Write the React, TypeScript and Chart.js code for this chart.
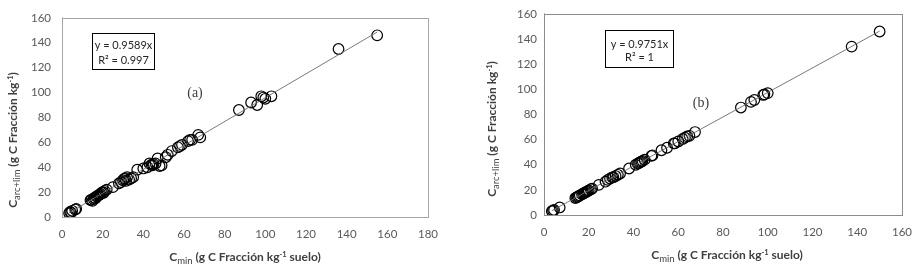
import React, { useEffect, useRef } from "react";
import { Chart, registerables } from "chart.js";
Chart.register(...registerables);

// ---------- DATA ----------
// Panel (a)
const xA = [3.5, 4, 4.5, 5, 6.5, 7, 14, 14.5, 15, 15.5, 16, 16.5, 17, 17.5, 18, 18.5, 19, 19.5, 20, 20.5, 21, 22, 25, 28, 29, 30, 30.5, 31, 31.5, 32, 33, 34, 35, 37, 40, 42, 43, 44, 44.5, 45, 46, 47, 48, 49, 51, 52, 54, 57, 58, 59, 62, 63, 64, 67, 68, 87, 93, 96, 98, 99, 100, 103, 136, 155];
const yA = [3, 4, 3.5, 5, 6, 6.5, 13.5, 14, 13, 14.5, 15.5, 15, 16.5, 17, 17.5, 18, 18.5, 19.5, 20, 19.5, 21, 22, 24, 27, 28, 29.5, 30.5, 31, 29, 32, 30, 31, 32, 38, 39, 40, 43, 42, 41.5, 42.5, 43, 47, 41, 41.5, 48, 50, 53, 56, 57, 58, 61, 62, 62, 66, 64, 86, 92, 90, 97, 96, 95, 97, 135, 146];
// Panel (b)
const xB = [3.5, 4, 4.5, 7, 14, 14.5, 15, 15.5, 16, 17, 17.5, 18, 18.5, 19, 19.5, 20, 21, 21.5, 24.5, 27.5, 28.5, 29.5, 30.5, 31, 32, 33, 34, 38, 41, 42, 42.5, 43, 43.5, 44, 45, 48, 48.5, 52.5, 55, 58, 58.5, 60, 62, 63, 64, 65, 67.5, 88, 92.5, 94, 98, 98.5, 100, 137.5, 150];
const yB = [3, 3.5, 4, 6, 13.5, 14, 14.5, 15, 15.5, 16.5, 17, 17.5, 18, 18.5, 19, 19.5, 20.5, 21, 24, 26.5, 28, 29, 30, 30, 31, 32, 33, 37, 40, 41, 41.5, 42, 42.5, 43, 44, 47, 47.5, 51.5, 53.5, 57, 57, 58.5, 60.5, 61.5, 62.5, 63, 66, 85.5, 90, 91.5, 95.5, 96, 97, 134, 146];

const slopeA = 0.9589;
const slopeB = 0.9751;
const eqA = ["y = 0.9589x", "R² = 0.997"];
const eqB = ["y = 0.9751x", "R² = 1"];
const panelLabelA = "(a)";
const panelLabelB = "(b)";

const xTicksA = [0, 20, 40, 60, 80, 100, 120, 140, 160, 180];
const xTicksB = [0, 20, 40, 60, 80, 100, 120, 140, 160];
const yTicks = [0, 20, 40, 60, 80, 100, 120, 140, 160];

const xTitleParts = [
  { t: "C", k: "main" },
  { t: "min", k: "sub" },
  { t: " (g C Fracción kg", k: "main" },
  { t: "-1", k: "sup" },
  { t: " suelo)", k: "main" },
];
const yTitleParts = [
  { t: "C", k: "main" },
  { t: "arc+lim", k: "sub" },
  { t: " (g C Fracción kg", k: "main" },
  { t: "-1", k: "sup" },
  { t: ")", k: "main" },
];

// ---------- DRAWING HELPERS ----------
const SANS = "Lato, 'Open Sans', sans-serif";
const fonts: Record<string, { f: string; dy: number }> = {
  main: { f: `bold 12px ${SANS}`, dy: 0 },
  sub: { f: `9.5px ${SANS}`, dy: 3 },
  sup: { f: `bold 7.5px ${SANS}`, dy: -4.5 },
};

function drawRich(ctx: CanvasRenderingContext2D, parts: { t: string; k: string }[], cx: number, cy: number, rotate: boolean) {
  ctx.save();
  ctx.translate(cx, cy);
  if (rotate) ctx.rotate(-Math.PI / 2);
  let total = 0;
  for (const p of parts) {
    ctx.font = fonts[p.k].f;
    total += ctx.measureText(p.t).width;
  }
  let x = -total / 2;
  ctx.textBaseline = "alphabetic";
  ctx.textAlign = "left";
  ctx.fillStyle = "#404040";
  for (const p of parts) {
    ctx.font = fonts[p.k].f;
    ctx.fillText(p.t, x, 4 + fonts[p.k].dy);
    x += ctx.measureText(p.t).width;
  }
  ctx.restore();
}

type PanelCfg = {
  xs: number[];
  ys: number[];
  slope: number;
  eq: string[];
  label: string;
  xTicks: number[];
  yAxisWidth: number;
  xAxisHeight: number;
  padTop: number;
  padRight: number;
  yTickPad: number;
  xTickPad: number;
  yTitle: [number, number];
  xTitle: [number, number];
  box: [number, number, number, number];
  eqLines: [number, number];
  labelPos: [number, number];
  frame: string;
};

function Panel({ cfg }: { cfg: PanelCfg }) {
  const ref = useRef<HTMLCanvasElement | null>(null);
  useEffect(() => {
    if (!ref.current) return;
    const pts = cfg.xs.map((x, i) => ({ x, y: cfg.ys[i] }));
    const minX = Math.min(...cfg.xs);
    const maxX = Math.max(...cfg.xs);
    const trend = [
      { x: minX, y: cfg.slope * minX },
      { x: maxX, y: cfg.slope * maxX },
    ];
    const deco = {
      id: "deco",
      beforeDatasetsDraw(chart: any) {
        const { ctx, chartArea: a } = chart;
        ctx.save();
        ctx.strokeStyle = cfg.frame;
        ctx.lineWidth = 1;
        ctx.strokeRect(Math.round(a.left) + 0.5, Math.round(a.top) + 0.5, Math.round(a.right - a.left), Math.round(a.bottom - a.top));
        ctx.restore();
      },
      afterDraw(chart: any) {
        const ctx: CanvasRenderingContext2D = chart.ctx;
        drawRich(ctx, yTitleParts, cfg.yTitle[0], cfg.yTitle[1], true);
        drawRich(ctx, xTitleParts, cfg.xTitle[0], cfg.xTitle[1], false);
        const [bx, by, bw, bh] = cfg.box;
        ctx.save();
        ctx.fillStyle = "#ffffff";
        ctx.fillRect(bx, by, bw, bh);
        ctx.strokeStyle = "#000000";
        ctx.lineWidth = 1;
        ctx.strokeRect(bx + 0.5, by + 0.5, bw, bh);
        ctx.fillStyle = "#262626";
        ctx.font = `11px ${SANS}`;
        ctx.textAlign = "center";
        ctx.textBaseline = "middle";
        ctx.fillText(cfg.eq[0], bx + bw / 2 + 0.5, cfg.eqLines[0]);
        ctx.fillText(cfg.eq[1], bx + bw / 2 + 0.5, cfg.eqLines[1]);
        ctx.font = "14px 'Liberation Serif', serif";
        ctx.fillStyle = "#404040";
        ctx.fillText(cfg.label, cfg.labelPos[0], cfg.labelPos[1]);
        ctx.restore();
      },
    };
    const chart = new Chart(ref.current, {
      type: "scatter",
      data: {
        datasets: [
          {
            type: "line",
            data: trend,
            borderColor: "#6b6b6b",
            borderWidth: 0.9,
            pointRadius: 0,
            fill: false,
          } as any,
          {
            data: pts,
            pointStyle: "circle",
            pointRadius: 5.3,
            pointBorderColor: "#000000",
            pointBackgroundColor: "rgba(0,0,0,0)",
            pointBorderWidth: 1.2,
            showLine: false,
          } as any,
        ],
      },
      options: {
        responsive: false,
        animation: false,
        layout: { padding: { top: cfg.padTop, right: cfg.padRight, left: 0, bottom: 0 } },
        plugins: { legend: { display: false }, tooltip: { enabled: false } },
        scales: {
          x: {
            type: "linear",
            min: cfg.xTicks[0],
            max: cfg.xTicks[cfg.xTicks.length - 1],
            afterBuildTicks: (s: any) => {
              s.ticks = cfg.xTicks.map((v) => ({ value: v }));
            },
            ticks: { color: "#595959", font: { family: SANS, size: 11.5 }, padding: cfg.xTickPad, maxRotation: 0 },
            grid: { display: false, drawTicks: false },
            border: { display: true, color: "#bfbfbf" },
            afterFit: (s: any) => {
              s.height = cfg.xAxisHeight;
            },
          },
          y: {
            type: "linear",
            min: yTicks[0],
            max: yTicks[yTicks.length - 1],
            afterBuildTicks: (s: any) => {
              s.ticks = yTicks.map((v) => ({ value: v }));
            },
            ticks: { color: "#595959", font: { family: SANS, size: 11.5 }, padding: cfg.yTickPad },
            grid: { display: false, drawTicks: false },
            border: { display: true, color: "#bfbfbf" },
            afterFit: (s: any) => {
              s.width = cfg.yAxisWidth;
            },
          },
        },
      },
      plugins: [deco],
    } as any);
    return () => chart.destroy();
  }, [cfg]);
  return <canvas ref={ref} width={461} height={264} style={{ display: "block", width: 461, height: 264 }} />;
}

const cfgA: PanelCfg = {
  xs: xA,
  ys: yA,
  slope: slopeA,
  eq: eqA,
  label: panelLabelA,
  xTicks: xTicksA,
  yAxisWidth: 62,
  xAxisHeight: 47,
  padTop: 6,
  padRight: 33,
  yTickPad: 11,
  xTickPad: 10,
  yTitle: [13, 140],
  xTitle: [245, 257],
  box: [92, 33, 62, 36],
  eqLines: [45, 60],
  labelPos: [195, 93],
  frame: "#a6a6a6",
};

const cfgB: PanelCfg = {
  xs: xB,
  ys: yB,
  slope: slopeB,
  eq: eqB,
  label: panelLabelB,
  xTicks: xTicksB,
  yAxisWidth: 83,
  xAxisHeight: 49,
  padTop: 5,
  padRight: 12,
  yTickPad: 7,
  xTickPad: 10,
  yTitle: [31, 129],
  xTitle: [266, 255],
  box: [144, 30, 68, 37],
  eqLines: [44, 57],
  labelPos: [240, 103],
  frame: "#8c8c8c",
};

export default function App() {
  return (
    <div style={{ position: "absolute", left: 0, top: 0, width: 922, height: 264, background: "#fff", display: "flex" }}>
      <Panel cfg={cfgA} />
      <Panel cfg={cfgB} />
    </div>
  );
}
